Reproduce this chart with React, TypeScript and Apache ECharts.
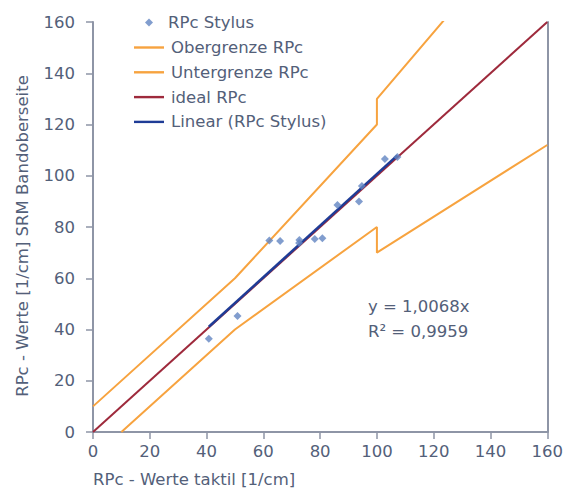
import React, { useEffect, useRef } from "react";
import * as echarts from "echarts";

const stylusX = [40.8, 50.9, 62.1, 65.9, 72.7, 72.6, 78.1, 80.8, 86.1, 93.7, 94.7, 102.8, 107.2];
const stylusY = [36.4, 45.3, 74.7, 74.5, 74.9, 73.8, 75.3, 75.6, 88.6, 90.0, 96.0, 106.5, 107.3];
const upperX = [0, 50, 100, 100, 160];
const upperY = [10, 60, 120, 130, 208];
const lowerX = [10, 50, 100, 100, 160];
const lowerY = [0, 40, 80, 70, 112];
const idealX = [0, 160];
const idealY = [0, 160];
const slope = 1.0068;
const trendX = [40.8, 107.2];
const seriesNames = ["RPc Stylus", "Obergrenze RPc", "Untergrenze RPc", "ideal RPc", "Linear (RPc Stylus)"];
const eqText = "y = 1,0068x";
const r2Text = "R² = 0,9959";
const xTitle = "RPc - Werte taktil [1/cm]";
const yTitle = "RPc - Werte [1/cm] SRM Bandoberseite";

const FONT = "DejaVu Sans";
const FS = 16.5;
const TXT = "#536079";
const AX = "#8e95a6";
const LINE_ICON = "path://M0,0 L30,0 L30,2.4 L0,2.4 Z";

const zip = (a: number[], b: number[]) => a.map((v, i) => [v, b[i]]);

export default function App() {
  const ref = useRef<HTMLDivElement>(null);
  useEffect(() => {
    if (!ref.current) return;
    const chart = echarts.init(ref.current, undefined, { renderer: "svg" });
    const axisCommon = {
      type: "value" as const,
      min: 0,
      max: 160,
      interval: 20,
      splitLine: { show: false },
      axisLine: { show: true, lineStyle: { color: AX, width: 2 } },
      axisTick: { show: true, length: 7, lineStyle: { color: AX, width: 1.5 } },
      axisLabel: { color: TXT, fontFamily: FONT, fontSize: FS },
    };
    const legendText = { color: TXT, fontFamily: FONT, fontSize: FS };
    chart.setOption({
      animation: false,
      textStyle: { fontFamily: FONT },
      grid: { left: 93, right: 15, top: 22, bottom: 59 },
      xAxis: { ...axisCommon, axisLabel: { ...axisCommon.axisLabel, margin: 11 } },
      yAxis: [
        { ...axisCommon, axisLabel: { ...axisCommon.axisLabel, margin: 18 } },
        {
          type: "value",
          position: "right",
          min: 0,
          max: 160,
          splitLine: { show: false },
          axisLine: { show: true, lineStyle: { color: AX, width: 2 } },
          axisTick: { show: false },
          axisLabel: { show: false },
        },
      ],
      legend: [
        {
          data: [{ name: seriesNames[0], icon: "diamond" }],
          orient: "vertical",
          left: 140,
          top: 9,
          itemWidth: 8,
          itemHeight: 8,
          textStyle: { ...legendText, padding: [0, 0, 0, 10] },
        },
        {
          data: seriesNames.slice(1).map((n) => ({ name: n, icon: LINE_ICON })),
          orient: "vertical",
          left: 129,
          top: 34,
          itemWidth: 30,
          itemHeight: 16,
          itemGap: 7.8,
          textStyle: { ...legendText, padding: [0, 0, 0, 2] },
        },
      ],
      graphic: [
        {
          type: "text",
          left: 368,
          top: 298,
          style: { text: eqText, fill: TXT, font: `${FS}px '${FONT}'` },
        },
        {
          type: "text",
          left: 368,
          top: 323,
          style: { text: r2Text, fill: TXT, font: `${FS}px '${FONT}'` },
        },
        {
          type: "text",
          left: 93,
          top: 471,
          style: { text: xTitle, fill: TXT, font: `${FS}px '${FONT}'` },
        },
        {
          type: "text",
          x: 22,
          y: 236,
          rotation: Math.PI / 2,
          style: { text: yTitle, fill: TXT, font: `${FS}px '${FONT}'`, align: "center", verticalAlign: "middle" },
        },
      ],
      series: [
        {
          name: seriesNames[1],
          type: "line",
          data: zip(upperX, upperY),
          symbol: "none",
          lineStyle: { color: "#f7a33f", width: 2 },
          itemStyle: { color: "#f7a33f" },
          z: 2,
        },
        {
          name: seriesNames[2],
          type: "line",
          data: zip(lowerX, lowerY),
          symbol: "none",
          lineStyle: { color: "#f7a33f", width: 2 },
          itemStyle: { color: "#f7a33f" },
          z: 2,
        },
        {
          name: seriesNames[3],
          type: "line",
          data: zip(idealX, idealY),
          symbol: "none",
          lineStyle: { color: "#9e2a3c", width: 2 },
          itemStyle: { color: "#9e2a3c" },
          z: 3,
        },
        {
          name: seriesNames[4],
          type: "line",
          data: trendX.map((x) => [x, x * slope]),
          symbol: "none",
          lineStyle: { color: "#1f3c96", width: 2.5 },
          itemStyle: { color: "#1f3c96" },
          z: 4,
        },
        {
          name: seriesNames[0],
          type: "scatter",
          data: zip(stylusX, stylusY),
          symbol: "diamond",
          symbolSize: 8,
          itemStyle: { color: "#6184c2" },
          z: 5,
        },
      ],
    });
    return () => chart.dispose();
  }, []);
  return (
    <div
      ref={ref}
      style={{ position: "absolute", left: 0, top: 0, width: 566, height: 491 }}
    />
  );
}
